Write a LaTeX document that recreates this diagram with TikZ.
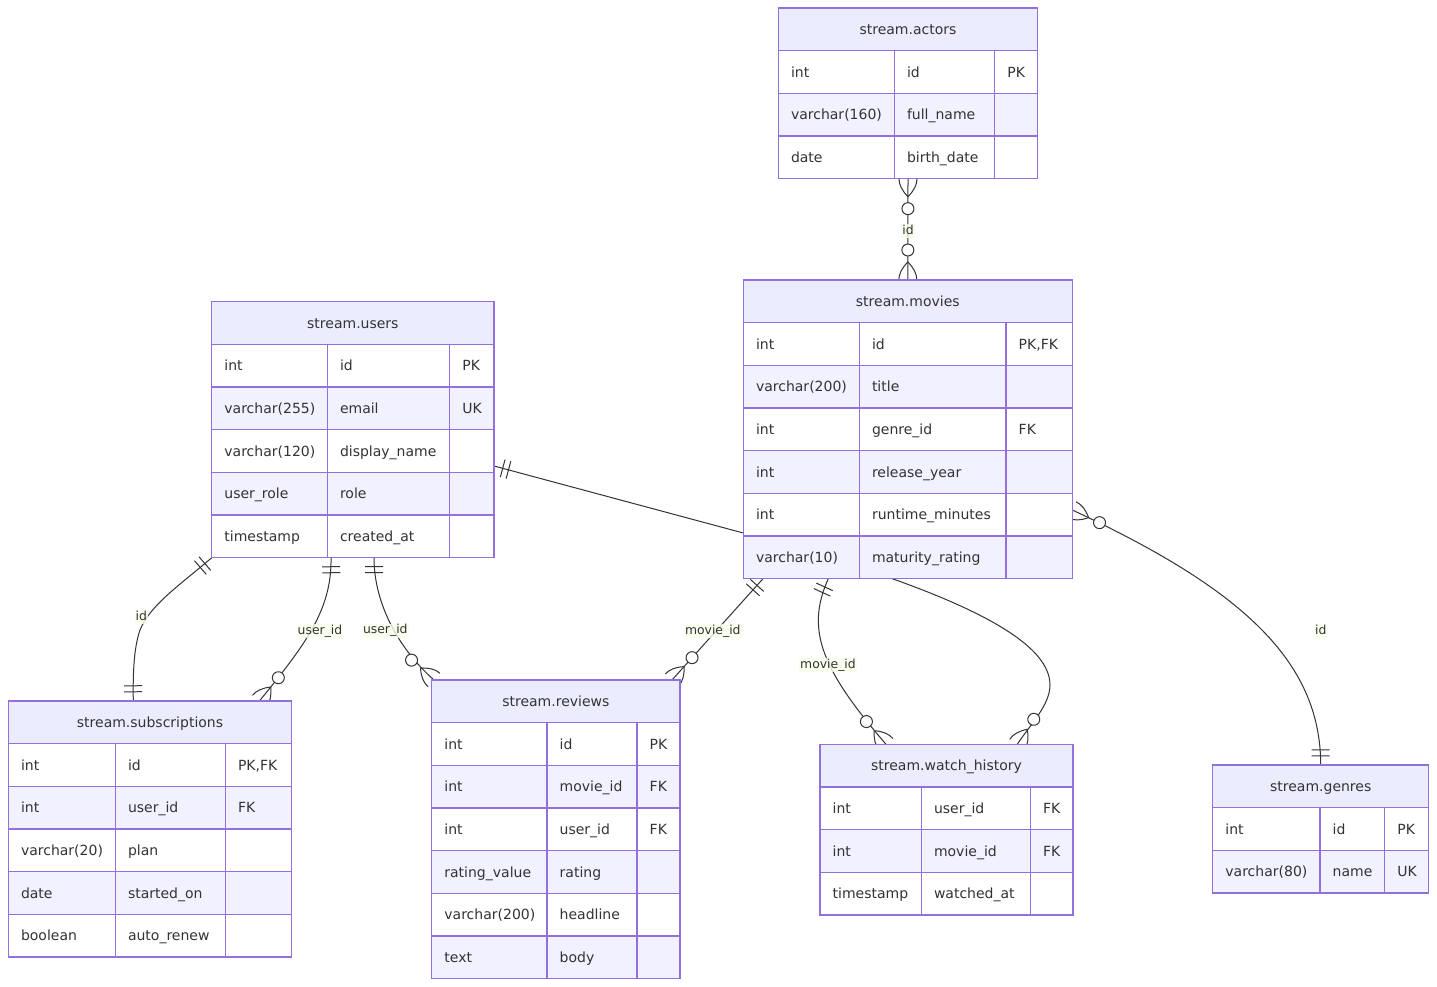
\documentclass[tikz,border=0pt]{standalone}
\usepackage{fontspec}
\setmainfont{DejaVu Sans}
\usetikzlibrary{decorations.markings,calc}
\definecolor{erstroke}{HTML}{9370DB}
\definecolor{erhead}{HTML}{ECECFF}
\definecolor{erodd}{HTML}{FFFFFF}
\definecolor{ereven}{HTML}{F2F1FF}
\definecolor{ertext}{HTML}{333333}
\definecolor{eredge}{HTML}{333333}
\definecolor{erlabel}{HTML}{F8FFEB}
\pgfdeclarelayer{bgl}
\pgfdeclarelayer{edgel}
\pgfsetlayers{bgl,edgel,main}
\tikzset{
  tablebox/.style={rectangle, fill=white, draw=none, inner sep=0pt, outer sep=0pt},
  celltext/.style={font=\fontsize{14}{17}\selectfont, text=ertext, inner sep=0pt},
  gridline/.style={draw=erstroke, line width=1.4pt},
  edge/.style={draw=eredge, line width=1pt},
  elabel/.style={font=\fontsize{12.4}{14}\selectfont, text=ertext, fill=erlabel, fill opacity=0.8, text opacity=1, inner sep=1pt, text height=9pt, text depth=3pt, anchor=base},
  onestart/.style={postaction={decorate, decoration={markings, mark=at position 0 with {\draw[eredge, line width=1pt] (9,-9) -- (9,9) (15,-9) -- (15,9);}}}},
  oneend/.style={postaction={decorate, decoration={markings, mark=at position -0.2pt with {\draw[eredge, line width=1pt] (-9,-9) -- (-9,9) (-15,-9) -- (-15,9);}}}},
  manystart/.style={postaction={decorate, decoration={markings, mark=at position 0 with {\draw[eredge, line width=1pt] (0,9) .. controls (6,9) and (12,6) .. (18,0) .. controls (12,-6) and (6,-9) .. (0,-9); \draw[eredge, line width=1pt, fill=white] (30,0) circle[radius=6pt];}}}},
  manyend/.style={postaction={decorate, decoration={markings, mark=at position -0.2pt with {\draw[eredge, line width=1pt] (0.2,9) .. controls (-5.8,9) and (-11.8,6) .. (-17.8,0) .. controls (-11.8,-6) and (-5.8,-9) .. (0.2,-9); \draw[eredge, line width=1pt, fill=white] (-29.8,0) circle[radius=6pt];}}}}
}
% #1 name #2 left #3 top #4 col1 #5 col2 #6 right #7 title #8 rows #9 number of rows
\newcommand\ertable[9]{%
  \node[tablebox, anchor=north west, minimum width={(#6-#2)*1pt}, minimum height={(#9+1)*42.67pt}] (#1) at (#2,#3) {};
  \fill[erhead] (#2,#3) rectangle (#6,#3+42.67);
  \node[celltext, anchor=base] (#1-title) at ({(#2+#6)/2},#3+26.5) {#7};
  \foreach \ca/\cb/\cc [count=\ci] in {#8} {%
    \pgfmathsetmacro\rt{#3+\ci*42.67}%
    \ifodd\ci\relax\def\rowcol{erodd}\else\def\rowcol{ereven}\fi
    \fill[\rowcol] (#2,\rt) rectangle (#6,\rt+42.67);
    \draw[gridline] (#2,\rt) -- (#6,\rt);
    \node[celltext, anchor=base west] (#1-\ci-a) at (#2+12.5,\rt+26.5) {\ca};
    \node[celltext, anchor=base west] (#1-\ci-b) at (#4+12.5,\rt+26.5) {\cb};
    \node[celltext, anchor=base west] (#1-\ci-c) at (#5+12.5,\rt+26.5) {\cc};
  }
  \draw[gridline] (#4,#3+42.67) -- (#4,#3+#9*42.67+42.67) (#5,#3+42.67) -- (#5,#3+#9*42.67+42.67);
  \draw[gridline] (#1.north west) rectangle (#1.south east);
}
\begin{document}
\begin{tikzpicture}[x=1pt,y=-1pt]
\useasboundingbox (0,0) rectangle (1437,987);
\begin{pgfonlayer}{bgl}
\fill[white] (0,0) rectangle (1437,987);
\end{pgfonlayer}

\ertable{actors}{778.3}{8}{894.3}{994.7}{1037.7}{stream.actors}
  {int/id/PK, varchar(160)/full\_name/{}, date/birth\_date/{}}{3}
\ertable{movies}{743.3}{280}{859.3}{1006}{1072.3}{stream.movies}
  {int/id/{PK,FK}, varchar(200)/title/{}, int/genre\_id/FK, int/release\_year/{}, int/runtime\_minutes/{}, varchar(10)/maturity\_rating/{}}{6}
\ertable{users}{211.7}{301.7}{327.3}{449.7}{494}{stream.users}
  {int/id/PK, varchar(255)/email/UK, varchar(120)/display\_name/{}, user\_role/role/{}, timestamp/created\_at/{}}{5}
\ertable{subs}{8.3}{701}{115.3}{225.3}{291.7}{stream.subscriptions}
  {int/id/{PK,FK}, int/user\_id/FK, varchar(20)/plan/{}, date/started\_on/{}, boolean/auto\_renew/{}}{5}
\ertable{reviews}{431.7}{680}{547}{637}{680}{stream.reviews}
  {int/id/PK, int/movie\_id/FK, int/user\_id/FK, rating\_value/rating/{}, varchar(200)/headline/{}, text/body/{}}{6}
\ertable{watch}{820}{744.3}{921.3}{1030.3}{1073}{stream.watch\_history}
  {int/user\_id/FK, int/movie\_id/FK, timestamp/watched\_at/{}}{3}
\ertable{genres}{1212.7}{765}{1320}{1384.7}{1428.7}{stream.genres}
  {int/id/PK, varchar(80)/name/UK}{2}

% connector end points
\coordinate (sB) at ($(subs.north west)+(125,0)$);
\coordinate (uC) at ($(users.south west)+(119.3,0)$);
\coordinate (sC) at ($(subs.north west)+(251.1,0)$);
\coordinate (uD) at ($(users.south west)+(162.3,0)$);
\coordinate (rD) at ($(reviews.north west)+(2.3,0)$);
\coordinate (uE) at ($(users.north east)+(0,164.3)$);
\coordinate (mE) at ($(movies.north west)+(0,253)$);
\coordinate (wE) at ($(watch.north west)+(197.2,0)$);
\coordinate (mF) at ($(movies.south west)+(19.7,0)$);
\coordinate (rF) at ($(reviews.north west)+(240.3,0)$);
\coordinate (mG) at ($(movies.south west)+(85,0)$);
\coordinate (wG) at ($(watch.north west)+(66,0)$);
\coordinate (mH) at ($(movies.north east)+(0,230)$);
\coordinate (gH) at ($(genres.north west)+(108,0)$);

\begin{pgfonlayer}{edgel}
\draw[edge, manystart, manyend] (actors.south) -- (movies.north);
\draw[edge, onestart, oneend] (users.south west) .. controls (180,585) and (150,605) .. (140,630) .. controls (133,650) and (133,680) .. (sB);
\draw[edge, onestart, manyend] (uC) .. controls (332,610) and (305,645) .. (sC);
\draw[edge, onestart, manyend] (uD) .. controls (374,605) and (400,650) .. (rD);
\draw[edge, onestart, manyend] (uE) -- (mE) .. controls (960,592) and (1050,640) .. (1050,685) .. controls (1050,705) and (1030,725) .. (wE);
\draw[edge, onestart, manyend] (mF) -- (rF);
\draw[edge, onestart, manyend] (mG) .. controls (805,630) and (822,670) .. (wG);
\draw[edge, manystart, oneend] (mH) .. controls (1240,588) and (1320.7,660) .. (gH);
\end{pgfonlayer}

\node[elabel] (lA) at (908,234.3) {id};
\node[elabel] (lB) at (141.3,620) {id};
\node[elabel] (lC) at (320,634.3) {user\_id};
\node[elabel] (lD) at (385.3,633.8) {user\_id};
\node[elabel] (lF) at (712.8,634) {movie\_id};
\node[elabel] (lG) at (828,668.3) {movie\_id};
\node[elabel] (lH) at (1320.8,634) {id};
\end{tikzpicture}
\end{document}
